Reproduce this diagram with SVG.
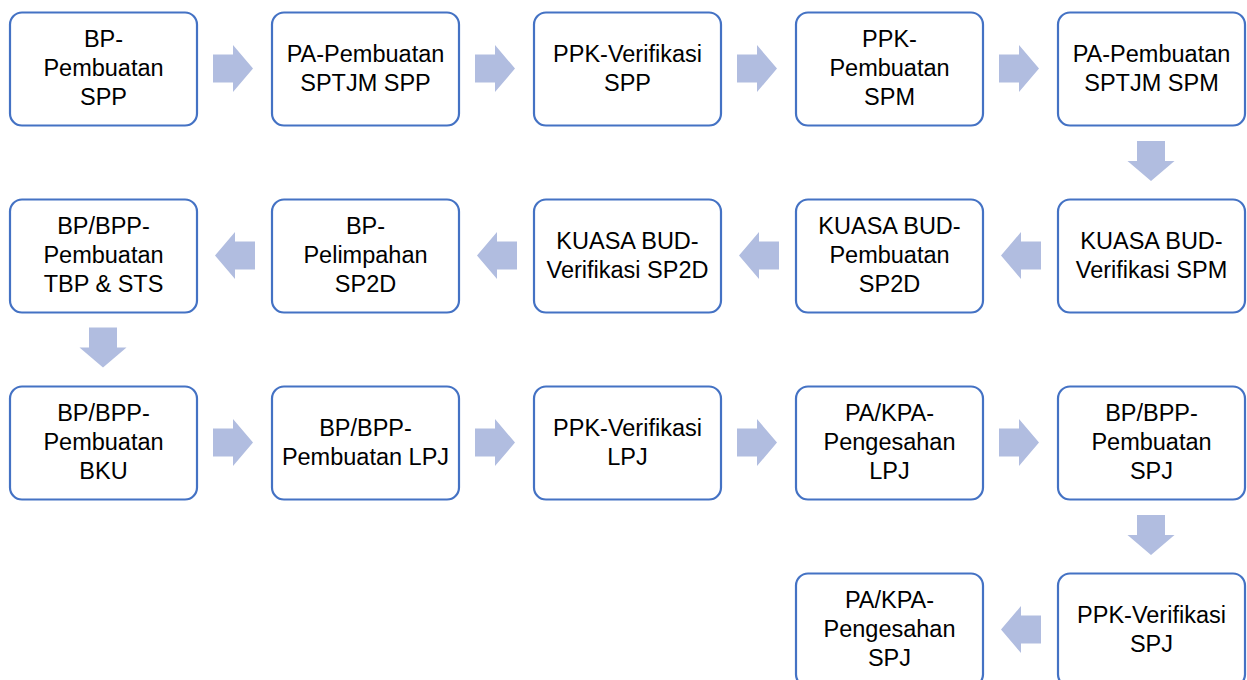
<svg xmlns="http://www.w3.org/2000/svg" width="1247" height="680" viewBox="0 0 1247 680">
<style>
.box{fill:#fff;stroke:#4472C4;stroke-width:2.2}
.t{font-family:"Liberation Sans",Arial,sans-serif;font-size:23.5px;fill:#000;text-anchor:middle}
.arr{fill:#B1BDE0}
</style>
<defs>
<path id="ar" d="M-20,-14 H0 V-23.5 L20,0 L0,23.5 V14 H-20 Z"/>
</defs>
<rect width="1247" height="680" fill="#fff"/>
<g id="connectors" class="arr">
<use href="#ar" transform="translate(233,68.5)"/>
<use href="#ar" transform="translate(495,68.5)"/>
<use href="#ar" transform="translate(757,68.5)"/>
<use href="#ar" transform="translate(1019,68.5)"/>
<use href="#ar" transform="translate(1151,161) rotate(90)"/>
<use href="#ar" transform="translate(1021,255.5) rotate(180)"/>
<use href="#ar" transform="translate(759,255.5) rotate(180)"/>
<use href="#ar" transform="translate(497,255.5) rotate(180)"/>
<use href="#ar" transform="translate(235,255.5) rotate(180)"/>
<use href="#ar" transform="translate(103,347.5) rotate(90)"/>
<use href="#ar" transform="translate(233,442.5)"/>
<use href="#ar" transform="translate(495,442.5)"/>
<use href="#ar" transform="translate(757,442.5)"/>
<use href="#ar" transform="translate(1019,442.5)"/>
<use href="#ar" transform="translate(1151,535) rotate(90)"/>
<use href="#ar" transform="translate(1021,629.5) rotate(180)"/>
</g>
<g id="n1"><rect class="box" x="10" y="12.5" width="187" height="113" rx="12"/><text class="t"><tspan x="103.5" y="47">BP-</tspan><tspan x="103.5" y="76">Pembuatan</tspan><tspan x="103.5" y="105">SPP</tspan></text></g>
<g id="n2"><rect class="box" x="272" y="12.5" width="187" height="113" rx="12"/><text class="t"><tspan x="365.5" y="61.5">PA-Pembuatan</tspan><tspan x="365.5" y="90.5">SPTJM SPP</tspan></text></g>
<g id="n3"><rect class="box" x="534" y="12.5" width="187" height="113" rx="12"/><text class="t"><tspan x="627.5" y="61.5">PPK-Verifikasi</tspan><tspan x="627.5" y="90.5">SPP</tspan></text></g>
<g id="n4"><rect class="box" x="796" y="12.5" width="187" height="113" rx="12"/><text class="t"><tspan x="889.5" y="47">PPK-</tspan><tspan x="889.5" y="76">Pembuatan</tspan><tspan x="889.5" y="105">SPM</tspan></text></g>
<g id="n5"><rect class="box" x="1058" y="12.5" width="187" height="113" rx="12"/><text class="t"><tspan x="1151.5" y="61.5">PA-Pembuatan</tspan><tspan x="1151.5" y="90.5">SPTJM SPM</tspan></text></g>

<g id="n6"><rect class="box" x="1058" y="199.5" width="187" height="113" rx="12"/><text class="t"><tspan x="1151.5" y="248.5">KUASA BUD-</tspan><tspan x="1151.5" y="277.5">Verifikasi SPM</tspan></text></g>
<g id="n7"><rect class="box" x="796" y="199.5" width="187" height="113" rx="12"/><text class="t"><tspan x="889.5" y="234">KUASA BUD-</tspan><tspan x="889.5" y="263">Pembuatan</tspan><tspan x="889.5" y="292">SP2D</tspan></text></g>
<g id="n8"><rect class="box" x="534" y="199.5" width="187" height="113" rx="12"/><text class="t"><tspan x="627.5" y="248.5">KUASA BUD-</tspan><tspan x="627.5" y="277.5">Verifikasi SP2D</tspan></text></g>
<g id="n9"><rect class="box" x="272" y="199.5" width="187" height="113" rx="12"/><text class="t"><tspan x="365.5" y="234">BP-</tspan><tspan x="365.5" y="263">Pelimpahan</tspan><tspan x="365.5" y="292">SP2D</tspan></text></g>
<g id="n10"><rect class="box" x="10" y="199.5" width="187" height="113" rx="12"/><text class="t"><tspan x="103.5" y="234">BP/BPP-</tspan><tspan x="103.5" y="263">Pembuatan</tspan><tspan x="103.5" y="292">TBP &amp; STS</tspan></text></g>

<g id="n11"><rect class="box" x="10" y="386.5" width="187" height="113" rx="12"/><text class="t"><tspan x="103.5" y="421">BP/BPP-</tspan><tspan x="103.5" y="450">Pembuatan</tspan><tspan x="103.5" y="479">BKU</tspan></text></g>
<g id="n12"><rect class="box" x="272" y="386.5" width="187" height="113" rx="12"/><text class="t"><tspan x="365.5" y="435.5">BP/BPP-</tspan><tspan x="365.5" y="464.5">Pembuatan LPJ</tspan></text></g>
<g id="n13"><rect class="box" x="534" y="386.5" width="187" height="113" rx="12"/><text class="t"><tspan x="627.5" y="435.5">PPK-Verifikasi</tspan><tspan x="627.5" y="464.5">LPJ</tspan></text></g>
<g id="n14"><rect class="box" x="796" y="386.5" width="187" height="113" rx="12"/><text class="t"><tspan x="889.5" y="421">PA/KPA-</tspan><tspan x="889.5" y="450">Pengesahan</tspan><tspan x="889.5" y="479">LPJ</tspan></text></g>
<g id="n15"><rect class="box" x="1058" y="386.5" width="187" height="113" rx="12"/><text class="t"><tspan x="1151.5" y="421">BP/BPP-</tspan><tspan x="1151.5" y="450">Pembuatan</tspan><tspan x="1151.5" y="479">SPJ</tspan></text></g>

<g id="n16"><rect class="box" x="1058" y="573.5" width="187" height="113" rx="12"/><text class="t"><tspan x="1151.5" y="622.5">PPK-Verifikasi</tspan><tspan x="1151.5" y="651.5">SPJ</tspan></text></g>
<g id="n17"><rect class="box" x="796" y="573.5" width="187" height="113" rx="12"/><text class="t"><tspan x="889.5" y="608">PA/KPA-</tspan><tspan x="889.5" y="637">Pengesahan</tspan><tspan x="889.5" y="666">SPJ</tspan></text></g>
</svg>
